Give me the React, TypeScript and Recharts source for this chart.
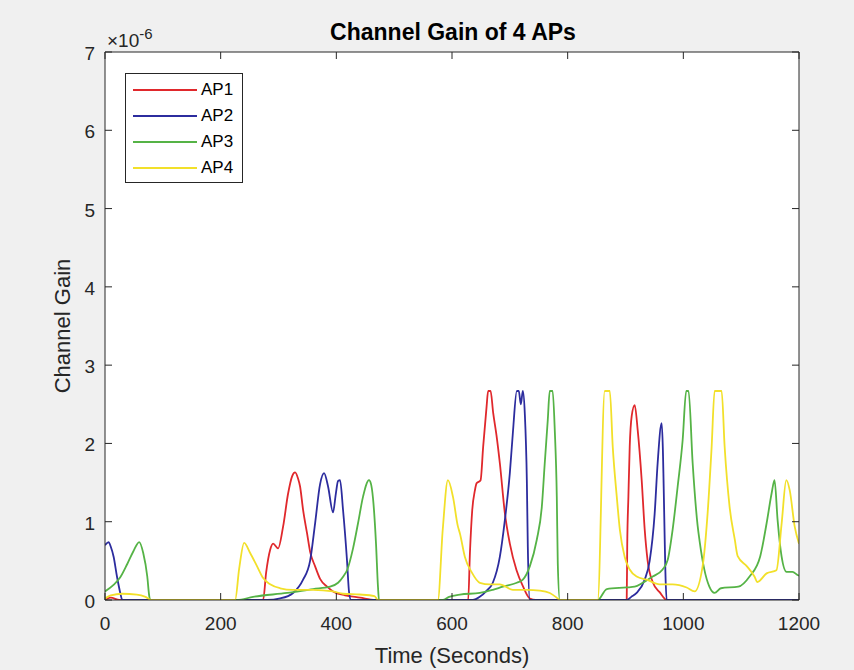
import React from 'react'
import { LineChart, Line, XAxis, YAxis, Legend, CartesianGrid } from 'recharts'

// gain values are in units of 1e-6
const xTicks = [0, 200, 400, 600, 800, 1000, 1200]
const yTicks = [0, 1, 2, 3, 4, 5, 6, 7]
const apNames = ['AP1', 'AP2', 'AP3', 'AP4']
const apColors = ['#e0282c', '#2c2c9e', '#55b346', '#f2e02a']

const ap1Time = [0, 10, 25, 273.4, 278.6, 285.5, 290.7, 299.3, 308, 316.6, 323.5, 328.7, 333.9, 337.3, 342.5, 349.4, 354.6, 363.3, 371.9, 384, 394.3, 415, 441, 467, 628, 631, 635, 639.6, 642.5, 649.4, 653.9, 659.8, 662.5, 666.7, 671.2, 677, 682.7, 691.4, 700, 711.6, 723, 734.5, 745, 902.1, 903, 905, 907.3, 910.7, 915.9, 921.1, 928, 933.2, 938.3, 947, 959, 971.2, 1200]
const ap1Gain = [0, 0.03, 0, 0, 0.35, 0.64, 0.72, 0.66, 0.94, 1.36, 1.58, 1.63, 1.55, 1.45, 1.15, 0.85, 0.62, 0.43, 0.27, 0.17, 0.11, 0.06, 0.03, 0, 0, 0.6, 1.15, 1.4, 1.49, 1.53, 1.96, 2.47, 2.67, 2.67, 2.39, 2.1, 1.75, 1.11, 0.72, 0.38, 0.17, 0.02, 0, 0, 0.7, 1.32, 1.96, 2.35, 2.49, 2.17, 1.53, 0.9, 0.5, 0.23, 0.1, 0, 0]

const ap2Time = [0, 6.2, 10, 15, 20.7, 26.4, 29.9, 280, 303, 325.2, 342.5, 354.6, 363.3, 371.9, 378.8, 385.7, 394.3, 399, 403, 406.4, 411.6, 418.5, 422, 425.4, 636, 648, 660, 670.6, 682.7, 691.4, 700, 705.2, 712.1, 715.5, 719, 722.5, 725.9, 729.4, 731.1, 734.5, 902, 910, 919.3, 933.2, 941.8, 950.4, 955.6, 962.5, 971.2, 1200]
const ap2Gain = [0.7, 0.74, 0.68, 0.55, 0.3, 0.09, 0, 0, 0.02, 0.09, 0.26, 0.5, 0.98, 1.48, 1.62, 1.45, 1.12, 1.35, 1.52, 1.53, 1.15, 0.5, 0.1, 0, 0, 0.04, 0.12, 0.22, 0.55, 1.02, 1.62, 2.13, 2.67, 2.67, 2.5, 2.67, 2.38, 1.53, 0.68, 0, 0, 0.04, 0.09, 0.26, 0.5, 1.1, 1.75, 2.26, 0, 0]

const ap3Time = [0, 14.3, 26.4, 38.5, 48.9, 59.2, 66.1, 73.1, 76.5, 78.2, 228.5, 256, 314.9, 359.8, 389.2, 403, 412, 418.5, 428.9, 437.5, 446.2, 456.5, 460, 463.4, 468.6, 472, 473.8, 584, 595, 613.7, 648.2, 670.6, 687.9, 712.1, 722.5, 734.5, 746.6, 755.3, 760.4, 765.6, 769, 774, 777.7, 781.2, 782.9, 786.4, 852, 867.6, 902, 915.9, 929.7, 947, 964.2, 972.9, 981.5, 990.2, 998.8, 1005, 1009, 1016.1, 1024.7, 1028.2, 1036, 1045, 1054, 1065, 1095, 1114.5, 1133, 1144, 1152.6, 1157.7, 1163, 1169.8, 1178.4, 1188.8, 1197.4, 1200]
const ap3Gain = [0.11, 0.19, 0.29, 0.46, 0.62, 0.74, 0.6, 0.3, 0.05, 0, 0, 0.04, 0.09, 0.14, 0.17, 0.22, 0.3, 0.38, 0.66, 0.98, 1.32, 1.53, 1.48, 1.3, 0.72, 0.17, 0, 0, 0.04, 0.07, 0.09, 0.13, 0.17, 0.22, 0.26, 0.43, 0.77, 1.19, 1.75, 2.3, 2.67, 2.67, 2.17, 1.32, 0.47, 0, 0, 0.14, 0.16, 0.17, 0.22, 0.3, 0.39, 0.51, 0.9, 1.45, 2.04, 2.67, 2.67, 1.75, 0.95, 0.75, 0.4, 0.17, 0.09, 0.15, 0.17, 0.3, 0.56, 0.98, 1.36, 1.53, 1.02, 0.56, 0.36, 0.36, 0.32, 0.31]

const ap4Time = [0, 10, 30, 55, 70, 80, 225, 232, 240.6, 251, 263, 273.5, 285.5, 302.8, 325.2, 359.8, 394.3, 411.6, 440, 466, 472, 575.6, 584, 592.9, 601.6, 610.2, 613.7, 622.3, 634.4, 648.2, 665.5, 682.7, 705.2, 729.4, 751.8, 769.1, 782.9, 786.4, 852, 864.1, 872.8, 878, 884.9, 890.2, 898.6, 907.3, 919.3, 936.6, 959, 981.5, 1005.7, 1019.5, 1033.3, 1042, 1048.9, 1054.1, 1066.2, 1071.4, 1080, 1089, 1094, 1110, 1123, 1128, 1144, 1161, 1170, 1178, 1184, 1192.5, 1200]
const ap4Gain = [0.02, 0.06, 0.08, 0.07, 0.04, 0, 0, 0.4, 0.73, 0.6, 0.43, 0.28, 0.2, 0.15, 0.13, 0.13, 0.11, 0.08, 0.07, 0.05, 0, 0, 0.9, 1.53, 1.32, 0.94, 0.85, 0.55, 0.35, 0.22, 0.2, 0.2, 0.13, 0.13, 0.12, 0.09, 0.02, 0, 0, 2.67, 2.67, 1.95, 1.32, 0.9, 0.55, 0.39, 0.3, 0.26, 0.2, 0.2, 0.16, 0.11, 0.43, 1.11, 1.95, 2.67, 2.67, 1.96, 1.19, 0.77, 0.56, 0.43, 0.3, 0.23, 0.34, 0.38, 0.98, 1.53, 1.4, 0.94, 0.72]

const toPoints = (time: number[], gain: number[]) =>
  time.map((t, i) => ({ time: t, gain: gain[i] }))

const series = [
  toPoints(ap1Time, ap1Gain),
  toPoints(ap2Time, ap2Gain),
  toPoints(ap3Time, ap3Gain),
  toPoints(ap4Time, ap4Gain)
]

const axisColor = '#262626'
const font = "'Liberation Sans', Arial, Helvetica, sans-serif"

const BottomTick = (props: any) => {
  const { x, y, payload } = props
  return (
    <g>
      <line x1={x} y1={y} x2={x} y2={y - 7} stroke={axisColor} />
      <text x={x} y={y + 30} textAnchor="middle" fontSize={19} fill={axisColor} fontFamily={font}>
        {payload.value}
      </text>
    </g>
  )
}

const LeftTick = (props: any) => {
  const { x, y, payload } = props
  return (
    <g>
      <line x1={x} y1={y} x2={x + 7} y2={y} stroke={axisColor} />
      <text x={x - 10} y={y + 8} textAnchor="end" fontSize={19} fill={axisColor} fontFamily={font}>
        {payload.value}
      </text>
    </g>
  )
}

const TopTick = (props: any) => {
  const { x, y } = props
  return <line x1={x} y1={y} x2={x} y2={y + 7} stroke={axisColor} />
}

const RightTick = (props: any) => {
  const { x, y } = props
  return <line x1={x} y1={y} x2={x - 7} y2={y} stroke={axisColor} />
}

const LegendBox = () => (
  <div
    style={{
      position: 'relative',
      width: 118,
      height: 110,
      boxSizing: 'border-box',
      border: `1px solid ${axisColor}`,
      background: '#fff',
      fontFamily: font
    }}
  >
    {apNames.map((name, i) => (
      <div
        key={name}
        style={{
          position: 'absolute',
          left: 7,
          top: 4 + i * 26,
          height: 24,
          display: 'flex',
          alignItems: 'center'
        }}
      >
        <span style={{ display: 'inline-block', width: 64, height: 1.5, background: apColors[i] }} />
        <span style={{ marginLeft: 4, fontSize: 17, color: '#000' }}>{name}</span>
      </div>
    ))}
  </div>
)

export default function App() {
  return (
    <div
      style={{
        position: 'absolute',
        left: 0,
        top: 0,
        width: 854,
        height: 670,
        background: '#f0f0f0'
      }}
    >
      <LineChart width={854} height={670} margin={{ top: 51, right: 54, bottom: 30, left: 0 }}>
        <CartesianGrid horizontal={false} vertical={false} fill="#ffffff" />
        <XAxis
          dataKey="time"
          type="number"
          domain={[0, 1200]}
          ticks={xTicks}
          height={40}
          tickSize={0}
          tickMargin={0}
          tickLine={false}
          axisLine={{ stroke: axisColor }}
          tick={<BottomTick />}
          allowDataOverflow
        />
        <XAxis
          xAxisId="top"
          dataKey="time"
          orientation="top"
          type="number"
          domain={[0, 1200]}
          ticks={xTicks}
          height={1}
          tickSize={0}
          tickMargin={0}
          tickLine={false}
          axisLine={{ stroke: axisColor }}
          tick={<TopTick />}
          allowDataOverflow
        />
        <YAxis
          type="number"
          domain={[0, 7]}
          ticks={yTicks}
          width={105}
          tickSize={0}
          tickMargin={0}
          tickLine={false}
          axisLine={{ stroke: axisColor }}
          tick={<LeftTick />}
          allowDataOverflow
        />
        <YAxis
          yAxisId="right"
          orientation="right"
          type="number"
          domain={[0, 7]}
          ticks={yTicks}
          width={1}
          tickSize={0}
          tickMargin={0}
          tickLine={false}
          axisLine={{ stroke: axisColor }}
          tick={<RightTick />}
          allowDataOverflow
        />
        <Legend
          layout="vertical"
          align="center"
          verticalAlign="middle"
          wrapperStyle={{ left: 125, top: 73, width: 118, height: 110 }}
          content={<LegendBox />}
        />
        {series.map((data, i) => (
          <Line
            key={apNames[i]}
            data={data}
            dataKey="gain"
            name={apNames[i]}
            xAxisId={i === 3 ? 'top' : 0}
            yAxisId={i === 3 ? 'right' : 0}
            type="monotone"
            stroke={apColors[i]}
            strokeWidth={1.8}
            dot={false}
            activeDot={false}
            isAnimationActive={false}
          />
        ))}
      </LineChart>
      <svg
        width={854}
        height={670}
        style={{ position: 'absolute', left: 0, top: 0, pointerEvents: 'none' }}
        fontFamily={font}
      >
        <text x={453} y={40} textAnchor="middle" fontSize={23} fontWeight="bold" fill="#000">
          Channel Gain of 4 APs
        </text>
        <text x={452} y={663} textAnchor="middle" fontSize={22} fill={axisColor}>
          Time (Seconds)
        </text>
        <text
          x={70}
          y={326}
          textAnchor="middle"
          fontSize={22}
          fill={axisColor}
          transform="rotate(-90 70 326)"
        >
          Channel Gain
        </text>
        <text x={107} y={47} fontSize={19} fill={axisColor}>
          ×10
          <tspan fontSize={15} dy={-8}>
            -6
          </tspan>
        </text>
      </svg>
    </div>
  )
}
